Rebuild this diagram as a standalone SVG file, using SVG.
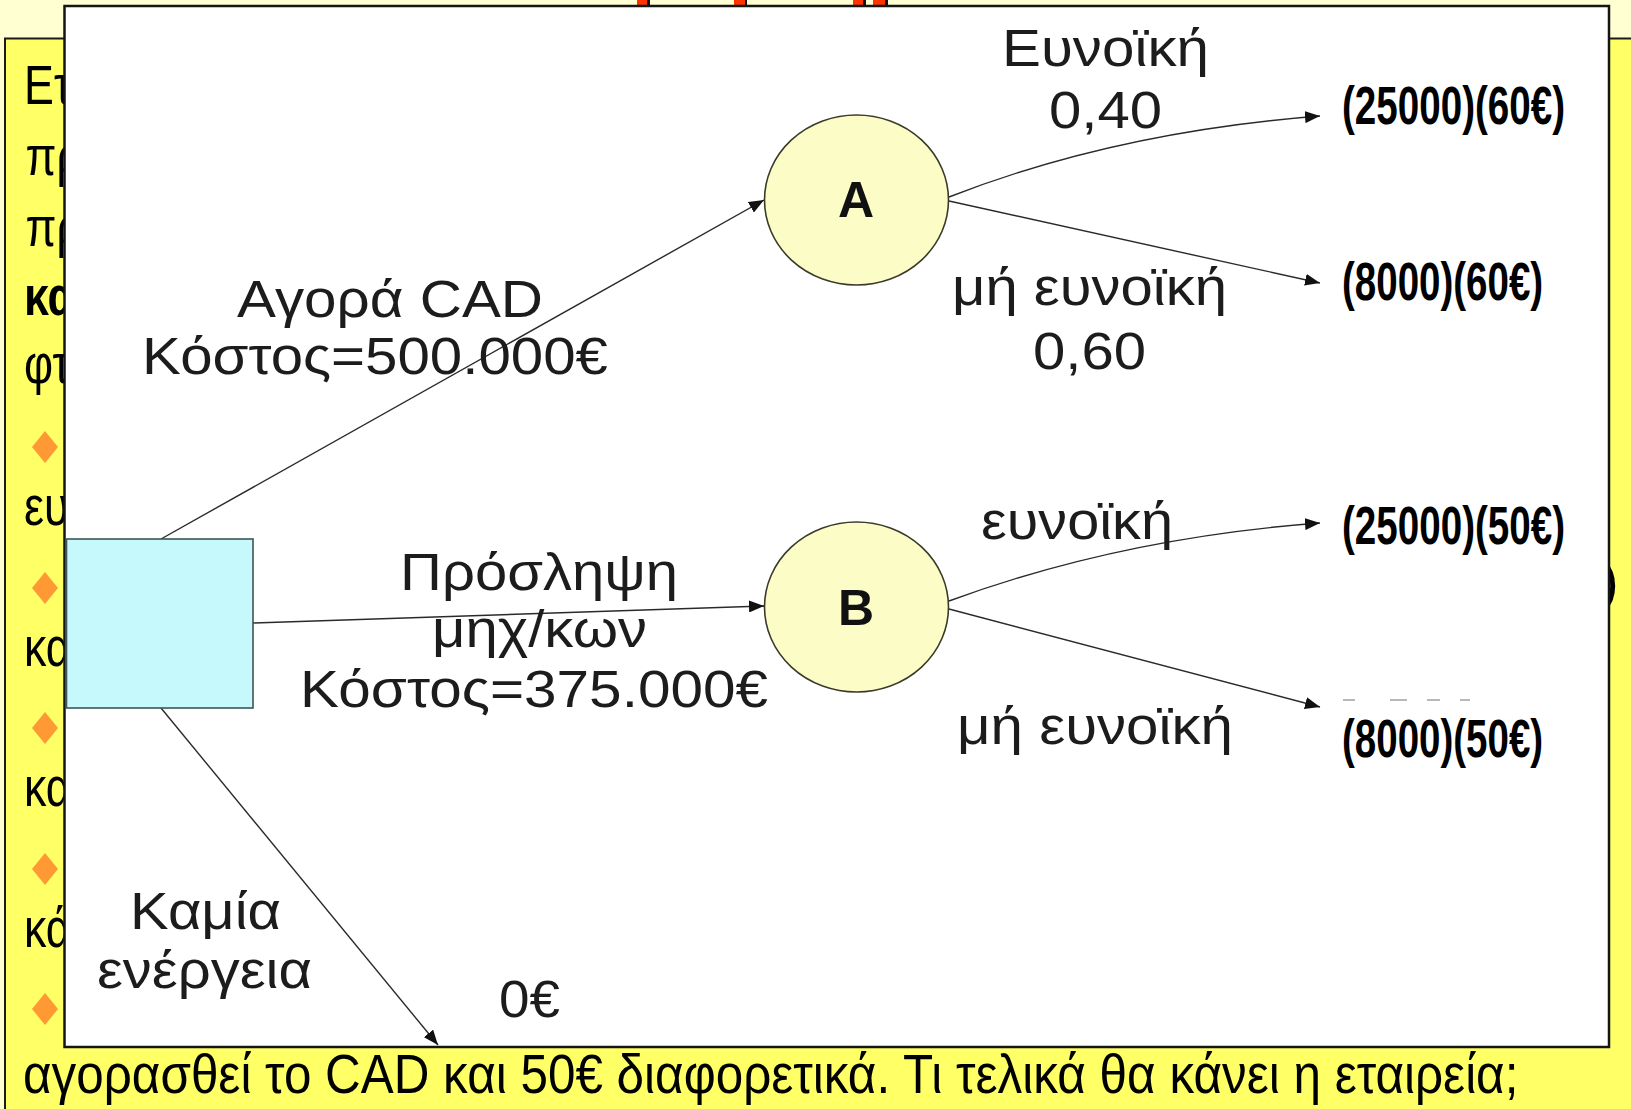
<svg xmlns="http://www.w3.org/2000/svg" width="1631" height="1109" viewBox="0 0 1631 1109">
  <defs>
    <marker id="arrow" markerUnits="userSpaceOnUse" markerWidth="16" markerHeight="12" refX="15" refY="6" orient="auto">
      <path d="M0,0 L15,6 L0,12 z" fill="#111"/>
    </marker>
    <style>
      .slide { font-family: "Liberation Sans", Arial, sans-serif; font-size: 56px; fill: #000; }
      .lbl { font-family: "Liberation Sans", Arial, sans-serif; font-size: 51px; fill: #1c1c1c; }
      .pay { font-family: "Liberation Sans", Arial, sans-serif; font-size: 53px; font-weight: bold; fill: #000; }
      .nodeLetter { font-family: "Liberation Sans", Arial, sans-serif; font-size: 50px; font-weight: bold; fill: #111; text-anchor: middle; }
      .edge { fill: none; stroke: #2a2a2a; stroke-width: 1.4; marker-end: url(#arrow); }
      .chance { fill: #FCFCC6; stroke: #3a3a2a; stroke-width: 1.6; }
      .bullet { fill: #FF9933; }
    </style>
  </defs>

  <!-- slide background -->
  <rect x="0" y="0" width="1631" height="1109" fill="#FFFFD2"/>

  <!-- title fragments peeking above the picture frame -->
  <g id="title-fragments">
    <rect x="640" y="0" width="10" height="10" fill="#111"/>
    <rect x="637" y="0" width="10" height="10" fill="#FF3300"/>
    <rect x="737" y="0" width="10" height="10" fill="#111"/>
    <rect x="734" y="0" width="11" height="10" fill="#FF3300"/>
    <rect x="856" y="0" width="10" height="10" fill="#111"/>
    <rect x="853" y="0" width="10" height="10" fill="#FF3300"/>
    <rect x="876" y="0" width="12" height="10" fill="#111"/>
    <rect x="873" y="0" width="12" height="10" fill="#FF3300"/>
  </g>

  <!-- yellow text panel -->
  <g id="text-panel">
    <rect x="5" y="38.5" width="1640" height="1080" fill="#FFFF66" stroke="#1a1a1a" stroke-width="2"/>
    <g transform="translate(24,0) scale(0.8,1)">
      <text class="slide" x="0" y="104">Ετ</text>
      <text class="slide" x="2" y="175">πρ</text>
      <text class="slide" x="2" y="246">πρ</text>
      <text class="slide" x="0" y="315" font-weight="bold">κα</text>
      <text class="slide" x="0" y="383">φτ</text>
      <text class="slide" x="0" y="525">ευ</text>
      <text class="slide" x="0" y="666">κα</text>
      <text class="slide" x="0" y="806">κα</text>
      <text class="slide" x="0" y="947">κά</text>
    </g>
    <polygon class="bullet" points="45,431 58,447 45,463 32,447"/>
    <polygon class="bullet" points="45,572 58,588 45,604 32,588"/>
    <polygon class="bullet" points="45,712 58,728 45,744 32,728"/>
    <polygon class="bullet" points="45,853 58,869 45,885 32,869"/>
    <polygon class="bullet" points="45,993 58,1009 45,1025 32,1009"/>
    <text class="slide" x="1600" y="600">)</text>
  </g>

  <!-- decision tree picture -->
  <rect id="tree-frame" x="64.5" y="6" width="1544.5" height="1041" fill="#FFFFFF" stroke="#151515" stroke-width="2.5"/>

  <!-- last line of the panel, below the picture (condensed) -->
  <g transform="translate(23,1093) scale(0.874,1)">
    <text class="slide" x="0" y="0" textLength="1711" lengthAdjust="spacingAndGlyphs">αγορασθεί το CAD και 50€ διαφορετικά. Τι τελικά θα κάνει η εταιρεία;</text>
  </g>

  <g id="connectors">
    <line class="edge" x1="161" y1="539" x2="764" y2="200"/>
    <line class="edge" x1="253" y1="623" x2="764" y2="606"/>
    <line class="edge" x1="161" y1="708" x2="438" y2="1045"/>
    <path class="edge" d="M949,197 Q1115,132 1320,116"/>
    <line class="edge" x1="949" y1="201" x2="1320" y2="283"/>
    <path class="edge" d="M949,601 Q1120,538 1320,523"/>
    <line class="edge" x1="949" y1="609" x2="1320" y2="707"/>
  </g>

  <g id="decision">
    <rect x="66.5" y="539" width="186.5" height="169" fill="#C6F9FB" stroke="#3d5656" stroke-width="1.6"/>
  </g>

  <g id="node-A">
    <ellipse class="chance" cx="856.5" cy="200" rx="92" ry="85"/>
    <text class="nodeLetter" x="856" y="217">A</text>
  </g>

  <g id="node-B">
    <ellipse class="chance" cx="856.5" cy="607" rx="92" ry="85"/>
    <text class="nodeLetter" x="856" y="625">B</text>
  </g>

  <g id="edge-labels">
    <text class="lbl" x="237" y="317" textLength="306" lengthAdjust="spacingAndGlyphs">Αγορά CAD</text>
    <text class="lbl" x="142" y="374" textLength="466" lengthAdjust="spacingAndGlyphs">Κόστος=500.000€</text>
    <text class="lbl" x="400" y="590" textLength="278" lengthAdjust="spacingAndGlyphs">Πρόσληψη</text>
    <text class="lbl" x="432" y="647" textLength="215" lengthAdjust="spacingAndGlyphs">μηχ/κων</text>
    <text class="lbl" x="300" y="707" textLength="468" lengthAdjust="spacingAndGlyphs">Κόστος=375.000€</text>
    <text class="lbl" x="130" y="929" textLength="151" lengthAdjust="spacingAndGlyphs">Καμία</text>
    <text class="lbl" x="97" y="988" textLength="215" lengthAdjust="spacingAndGlyphs">ενέργεια</text>
    <text class="lbl" x="499" y="1017" textLength="61" lengthAdjust="spacingAndGlyphs">0€</text>

    <text class="lbl" x="1002" y="66" textLength="207" lengthAdjust="spacingAndGlyphs">Ευνοϊκή</text>
    <text class="lbl" x="1049" y="128" textLength="113" lengthAdjust="spacingAndGlyphs">0,40</text>
    <text class="lbl" x="952" y="305" textLength="275" lengthAdjust="spacingAndGlyphs">μή ευνοϊκή</text>
    <text class="lbl" x="1033" y="369" textLength="113" lengthAdjust="spacingAndGlyphs">0,60</text>

    <text class="lbl" x="981" y="539" textLength="192" lengthAdjust="spacingAndGlyphs">ευνοϊκή</text>
    <text class="lbl" x="957" y="744" textLength="276" lengthAdjust="spacingAndGlyphs">μή ευνοϊκή</text>
  </g>

  <!-- end-of-branch values, in a condensed bold face -->
  <g id="payoffs">
    <g transform="translate(1342,124) scale(0.729,1)">
      <text class="pay" x="0" y="0" textLength="306" lengthAdjust="spacingAndGlyphs">(25000)(60€)</text>
    </g>
    <g transform="translate(1342,300) scale(0.726,1)">
      <text class="pay" x="0" y="0" textLength="277" lengthAdjust="spacingAndGlyphs">(8000)(60€)</text>
    </g>
    <g transform="translate(1342,544) scale(0.729,1)">
      <text class="pay" x="0" y="0" textLength="306" lengthAdjust="spacingAndGlyphs">(25000)(50€)</text>
    </g>
    <g transform="translate(1342,757) scale(0.726,1)">
      <text class="pay" x="0" y="0" textLength="277" lengthAdjust="spacingAndGlyphs">(8000)(50€)</text>
    </g>
    <!-- faded remains of an older value -->
    <g stroke="#b8b8b8" stroke-width="2">
      <line x1="1343" y1="700" x2="1355" y2="700"/>
      <line x1="1390" y1="700" x2="1407" y2="700"/>
      <line x1="1427" y1="700" x2="1440" y2="700"/>
      <line x1="1460" y1="700" x2="1470" y2="700"/>
    </g>
  </g>
</svg>
